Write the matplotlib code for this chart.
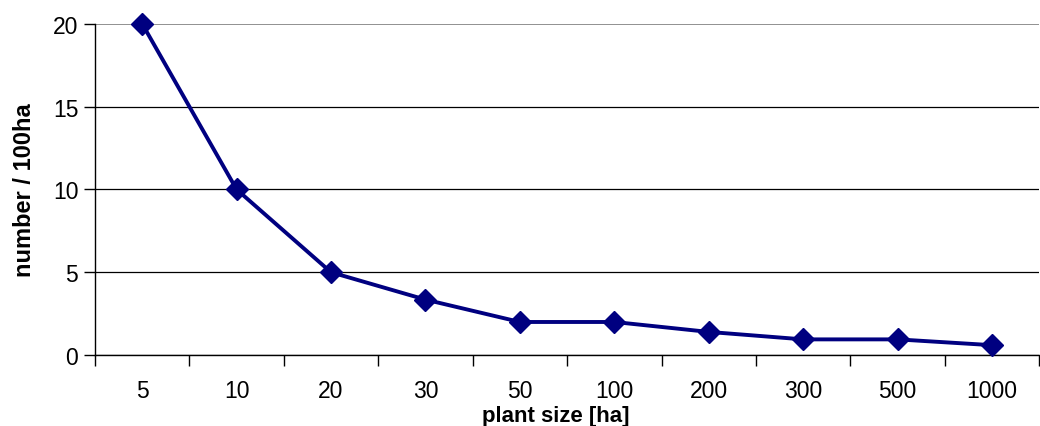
import numpy as np
import matplotlib.pyplot as plt

plt.rcParams['font.family'] = ['Liberation Sans', 'DejaVu Sans']

# plant size categories and density values
sizes = ['5', '10', '20', '30', '50', '100', '200', '300', '500', '1000']
number_per_100ha = [20, 10, 5, 3.35, 2, 2, 1.4, 0.95, 0.95, 0.6]
y_ticks = [0, 5, 10, 15, 20]


def main():
    fig = plt.figure(figsize=(10.4, 4.27), dpi=100)
    ax = fig.add_axes([0.0913, 0.166, 0.908, 0.776])

    x = np.arange(len(sizes))
    ax.plot(x, number_per_100ha, color='#000080', linewidth=2.8,
            marker='D', markersize=11.5, zorder=3, clip_on=False)

    ax.set_xlim(-0.5, len(sizes) - 0.5)
    ax.set_ylim(0, 20)

    # ticks between categories, labels at centres
    ax.set_xticks(np.arange(len(sizes) + 1) - 0.5)
    ax.set_xticklabels([])
    ax.set_xticks(x, minor=True)
    ax.set_xticklabels(sizes, minor=True, fontsize=16.5)
    ax.tick_params(axis='x', which='major', length=8, width=1, direction='out')
    ax.tick_params(axis='x', which='minor', length=0, pad=17)

    ax.set_yticks(y_ticks)
    ax.set_yticklabels([str(v) for v in y_ticks], fontsize=16.5)
    ax.tick_params(axis='y', length=8, width=1, direction='out', pad=4)

    ax.grid(axis='y', color='black', linewidth=0.9)
    gl = ax.get_ygridlines()
    gl[-1].set_color('#888888')
    gl[-1].set_linewidth(1.3)
    ax.set_axisbelow(True)
    for side in ['top', 'right']:
        ax.spines[side].set_visible(False)
    ax.spines['left'].set_linewidth(1)
    ax.spines['bottom'].set_linewidth(1)

    ax.set_xlabel('plant size [ha]', fontsize=16, fontweight='bold')
    ax.xaxis.set_label_coords(0.488, -0.15)
    ax.set_ylabel('number / 100ha', fontsize=17, fontweight='bold', labelpad=12)

    fig.savefig('out.png', dpi=100)


if __name__ == '__main__':
    main()
